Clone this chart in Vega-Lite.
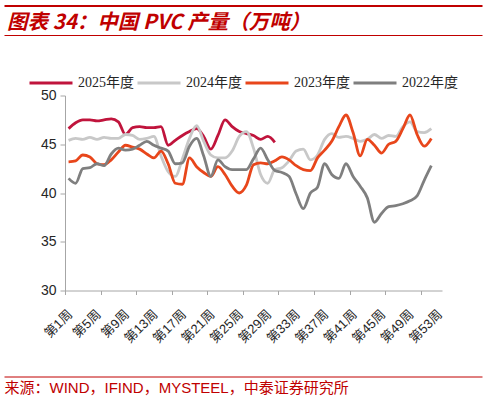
{
  "$schema": "https://vega.github.io/schema/vega-lite/v6.json",
  "background": "white",
  "padding": {"left": 4, "top": 5.5, "right": 4, "bottom": 4},
  "bounds": "flush",
  "spacing": 60,
  "datasets": {
    "pvc": [
      {"week": 1, "year": "2025年度", "value": 46.6}, {"week": 2, "year": "2025年度", "value": 47.2},
      {"week": 3, "year": "2025年度", "value": 47.5}, {"week": 4, "year": "2025年度", "value": 47.5},
      {"week": 5, "year": "2025年度", "value": 47.4}, {"week": 6, "year": "2025年度", "value": 47.5},
      {"week": 7, "year": "2025年度", "value": 47.6}, {"week": 8, "year": "2025年度", "value": 47.3},
      {"week": 9, "year": "2025年度", "value": 46.0}, {"week": 10, "year": "2025年度", "value": 46.7},
      {"week": 11, "year": "2025年度", "value": 46.8}, {"week": 12, "year": "2025年度", "value": 46.7},
      {"week": 13, "year": "2025年度", "value": 46.7}, {"week": 14, "year": "2025年度", "value": 46.8},
      {"week": 15, "year": "2025年度", "value": 44.9}, {"week": 16, "year": "2025年度", "value": 45.4},
      {"week": 17, "year": "2025年度", "value": 45.9}, {"week": 18, "year": "2025年度", "value": 46.3},
      {"week": 19, "year": "2025年度", "value": 46.6}, {"week": 20, "year": "2025年度", "value": 45.8},
      {"week": 21, "year": "2025年度", "value": 44.5}, {"week": 22, "year": "2025年度", "value": 45.9},
      {"week": 23, "year": "2025年度", "value": 47.5}, {"week": 24, "year": "2025年度", "value": 46.8},
      {"week": 25, "year": "2025年度", "value": 46.3}, {"week": 26, "year": "2025年度", "value": 46.1},
      {"week": 27, "year": "2025年度", "value": 45.9}, {"week": 28, "year": "2025年度", "value": 45.5},
      {"week": 29, "year": "2025年度", "value": 45.8}, {"week": 30, "year": "2025年度", "value": 45.2},

      {"week": 1, "year": "2024年度", "value": 45.4}, {"week": 2, "year": "2024年度", "value": 45.6},
      {"week": 3, "year": "2024年度", "value": 45.5}, {"week": 4, "year": "2024年度", "value": 45.7},
      {"week": 5, "year": "2024年度", "value": 45.5}, {"week": 6, "year": "2024年度", "value": 45.7},
      {"week": 7, "year": "2024年度", "value": 45.6}, {"week": 8, "year": "2024年度", "value": 45.6},
      {"week": 9, "year": "2024年度", "value": 46.0}, {"week": 10, "year": "2024年度", "value": 45.9},
      {"week": 11, "year": "2024年度", "value": 45.5}, {"week": 12, "year": "2024年度", "value": 45.6},
      {"week": 13, "year": "2024年度", "value": 45.8}, {"week": 14, "year": "2024年度", "value": 43.8},
      {"week": 15, "year": "2024年度", "value": 42.2}, {"week": 16, "year": "2024年度", "value": 41.7},
      {"week": 17, "year": "2024年度", "value": 43.5}, {"week": 18, "year": "2024年度", "value": 45.6},
      {"week": 19, "year": "2024年度", "value": 46.9}, {"week": 20, "year": "2024年度", "value": 45.3},
      {"week": 21, "year": "2024年度", "value": 43.9}, {"week": 22, "year": "2024年度", "value": 43.6},
      {"week": 23, "year": "2024年度", "value": 43.6}, {"week": 24, "year": "2024年度", "value": 44.3},
      {"week": 25, "year": "2024年度", "value": 45.8}, {"week": 26, "year": "2024年度", "value": 46.3},
      {"week": 27, "year": "2024年度", "value": 44.6}, {"week": 28, "year": "2024年度", "value": 41.9},
      {"week": 29, "year": "2024年度", "value": 41.0}, {"week": 30, "year": "2024年度", "value": 42.4},
      {"week": 31, "year": "2024年度", "value": 42.6}, {"week": 32, "year": "2024年度", "value": 43.3},
      {"week": 33, "year": "2024年度", "value": 44.3}, {"week": 34, "year": "2024年度", "value": 44.5},
      {"week": 35, "year": "2024年度", "value": 43.4}, {"week": 36, "year": "2024年度", "value": 43.9},
      {"week": 37, "year": "2024年度", "value": 45.5}, {"week": 38, "year": "2024年度", "value": 46.1},
      {"week": 39, "year": "2024年度", "value": 45.7}, {"week": 40, "year": "2024年度", "value": 45.8},
      {"week": 41, "year": "2024年度", "value": 45.6}, {"week": 42, "year": "2024年度", "value": 45.3},
      {"week": 43, "year": "2024年度", "value": 45.5}, {"week": 44, "year": "2024年度", "value": 46.0},
      {"week": 45, "year": "2024年度", "value": 45.6}, {"week": 46, "year": "2024年度", "value": 45.9},
      {"week": 47, "year": "2024年度", "value": 45.8}, {"week": 48, "year": "2024年度", "value": 46.8},
      {"week": 49, "year": "2024年度", "value": 47.3}, {"week": 50, "year": "2024年度", "value": 46.3},
      {"week": 51, "year": "2024年度", "value": 46.2}, {"week": 52, "year": "2024年度", "value": 46.6},

      {"week": 1, "year": "2023年度", "value": 43.2}, {"week": 2, "year": "2023年度", "value": 43.3},
      {"week": 3, "year": "2023年度", "value": 43.9}, {"week": 4, "year": "2023年度", "value": 43.7},
      {"week": 5, "year": "2023年度", "value": 43.0}, {"week": 6, "year": "2023年度", "value": 42.9},
      {"week": 7, "year": "2023年度", "value": 43.4}, {"week": 8, "year": "2023年度", "value": 44.2},
      {"week": 9, "year": "2023年度", "value": 44.9}, {"week": 10, "year": "2023年度", "value": 44.7},
      {"week": 11, "year": "2023年度", "value": 44.5}, {"week": 12, "year": "2023年度", "value": 44.0},
      {"week": 13, "year": "2023年度", "value": 43.6}, {"week": 14, "year": "2023年度", "value": 44.3},
      {"week": 15, "year": "2023年度", "value": 43.0}, {"week": 16, "year": "2023年度", "value": 41.0},
      {"week": 17, "year": "2023年度", "value": 40.9}, {"week": 18, "year": "2023年度", "value": 43.6},
      {"week": 19, "year": "2023年度", "value": 42.7}, {"week": 20, "year": "2023年度", "value": 42.1},
      {"week": 21, "year": "2023年度", "value": 41.7}, {"week": 22, "year": "2023年度", "value": 42.7},
      {"week": 23, "year": "2023年度", "value": 41.9}, {"week": 24, "year": "2023年度", "value": 40.7},
      {"week": 25, "year": "2023年度", "value": 40.0}, {"week": 26, "year": "2023年度", "value": 40.8},
      {"week": 27, "year": "2023年度", "value": 42.9}, {"week": 28, "year": "2023年度", "value": 43.1},
      {"week": 29, "year": "2023年度", "value": 43.0}, {"week": 30, "year": "2023年度", "value": 43.3},
      {"week": 31, "year": "2023年度", "value": 43.7}, {"week": 32, "year": "2023年度", "value": 43.4},
      {"week": 33, "year": "2023年度", "value": 42.8}, {"week": 34, "year": "2023年度", "value": 42.4},
      {"week": 35, "year": "2023年度", "value": 42.3}, {"week": 36, "year": "2023年度", "value": 43.6},
      {"week": 37, "year": "2023年度", "value": 44.4}, {"week": 38, "year": "2023年度", "value": 45.3},
      {"week": 39, "year": "2023年度", "value": 46.8}, {"week": 40, "year": "2023年度", "value": 48.0},
      {"week": 41, "year": "2023年度", "value": 46.2}, {"week": 42, "year": "2023年度", "value": 43.8},
      {"week": 43, "year": "2023年度", "value": 45.5}, {"week": 44, "year": "2023年度", "value": 44.9},
      {"week": 45, "year": "2023年度", "value": 44.1}, {"week": 46, "year": "2023年度", "value": 45.0},
      {"week": 47, "year": "2023年度", "value": 45.3}, {"week": 48, "year": "2023年度", "value": 46.6},
      {"week": 49, "year": "2023年度", "value": 48.0}, {"week": 50, "year": "2023年度", "value": 46.0},
      {"week": 51, "year": "2023年度", "value": 44.8}, {"week": 52, "year": "2023年度", "value": 45.6},

      {"week": 1, "year": "2022年度", "value": 41.5}, {"week": 2, "year": "2022年度", "value": 41.0},
      {"week": 3, "year": "2022年度", "value": 42.5}, {"week": 4, "year": "2022年度", "value": 42.6},
      {"week": 5, "year": "2022年度", "value": 43.0}, {"week": 6, "year": "2022年度", "value": 42.8},
      {"week": 7, "year": "2022年度", "value": 44.0}, {"week": 8, "year": "2022年度", "value": 44.6},
      {"week": 9, "year": "2022年度", "value": 44.4}, {"week": 10, "year": "2022年度", "value": 44.5},
      {"week": 11, "year": "2022年度", "value": 44.9}, {"week": 12, "year": "2022年度", "value": 45.3},
      {"week": 13, "year": "2022年度", "value": 44.9}, {"week": 14, "year": "2022年度", "value": 44.6},
      {"week": 15, "year": "2022年度", "value": 44.3}, {"week": 16, "year": "2022年度", "value": 43.0},
      {"week": 17, "year": "2022年度", "value": 43.1}, {"week": 18, "year": "2022年度", "value": 44.8},
      {"week": 19, "year": "2022年度", "value": 45.6}, {"week": 20, "year": "2022年度", "value": 43.8},
      {"week": 21, "year": "2022年度", "value": 41.7}, {"week": 22, "year": "2022年度", "value": 43.4},
      {"week": 23, "year": "2022年度", "value": 42.7}, {"week": 24, "year": "2022年度", "value": 42.4},
      {"week": 25, "year": "2022年度", "value": 42.4}, {"week": 26, "year": "2022年度", "value": 42.4},
      {"week": 27, "year": "2022年度", "value": 43.5}, {"week": 28, "year": "2022年度", "value": 44.6},
      {"week": 29, "year": "2022年度", "value": 43.4}, {"week": 30, "year": "2022年度", "value": 42.3},
      {"week": 31, "year": "2022年度", "value": 42.1}, {"week": 32, "year": "2022年度", "value": 41.7},
      {"week": 33, "year": "2022年度", "value": 39.9}, {"week": 34, "year": "2022年度", "value": 38.4},
      {"week": 35, "year": "2022年度", "value": 40.0}, {"week": 36, "year": "2022年度", "value": 40.6},
      {"week": 37, "year": "2022年度", "value": 43.0}, {"week": 38, "year": "2022年度", "value": 41.9},
      {"week": 39, "year": "2022年度", "value": 41.5}, {"week": 40, "year": "2022年度", "value": 43.0},
      {"week": 41, "year": "2022年度", "value": 41.7}, {"week": 42, "year": "2022年度", "value": 40.7},
      {"week": 43, "year": "2022年度", "value": 39.5}, {"week": 44, "year": "2022年度", "value": 37.0},
      {"week": 45, "year": "2022年度", "value": 37.9}, {"week": 46, "year": "2022年度", "value": 38.6},
      {"week": 47, "year": "2022年度", "value": 38.7}, {"week": 48, "year": "2022年度", "value": 38.9},
      {"week": 49, "year": "2022年度", "value": 39.2}, {"week": 50, "year": "2022年度", "value": 39.7},
      {"week": 51, "year": "2022年度", "value": 41.3}, {"week": 52, "year": "2022年度", "value": 42.8}
    ]
  },
  "vconcat": [
    {
      "width": 417,
      "height": 29.5,
      "data": {"values": [{}]},
      "layer": [
        {
          "mark": {"type": "text", "align": "left", "baseline": "middle", "font": "Noto Sans CJK SC", "fontSize": 20.5, "fontStyle": "italic", "fontWeight": "bold", "color": "#C00000", "dx": 3},
          "encoding": {
            "x": {"datum": 0, "type": "quantitative", "scale": {"domain": [0, 1], "range": [-61, 417]},
                  "axis": {"orient": "top", "domainColor": "#C00000", "domainWidth": 2.2, "labels": false, "ticks": false, "grid": false, "title": null}},
            "y": {"datum": 0.4, "type": "quantitative", "scale": {"domain": [0, 1]}, "axis": null},
            "text": {"value": "图表 34：中国 PVC 产量（万吨）"}
          }
        },
        {
          "mark": {"type": "text"},
          "encoding": {
            "x": {"datum": 0, "type": "quantitative", "scale": {"domain": [0, 1], "range": [-61, 417]},
                  "axis": {"orient": "bottom", "domainColor": "#C00000", "domainWidth": 1, "labels": false, "ticks": false, "grid": false, "title": null}},
            "y": {"datum": 0.5, "type": "quantitative", "scale": {"domain": [0, 1]}, "axis": null},
            "text": {"value": ""}
          }
        }
      ],
      "resolve": {"scale": {"x": "independent"}, "axis": {"x": "independent"}}
    },
    {
      "width": 377,
      "height": 195,
      "data": {"name": "pvc"},
      "mark": {"type": "line", "interpolate": "monotone", "strokeWidth": 2.8},
      "encoding": {
        "x": {
          "field": "week",
          "type": "quantitative",
          "scale": {"domain": [0.5, 53.5], "nice": false, "zero": false},
          "axis": {
            "title": null,
            "grid": false,
            "values": [0.5, 1, 5, 5.5, 9, 10.5, 13, 15.5, 17, 20.5, 21, 25, 25.5, 29, 30.5, 33, 35.5, 37, 40.5, 41, 45, 45.5, 49, 50.5, 53],
            "labelExpr": "datum.value % 1 === 0 ? '第' + datum.value + '周' : ''",
            "tickOpacity": {"condition": {"test": "datum.value % 1 !== 0", "value": 1}, "value": 0},
            "tickSize": 4,
            "tickColor": "#A6A6A6",
            "domainColor": "#A6A6A6",
            "labelAngle": -45,
            "labelOverlap": false,
            "labelFlush": false,
            "labelPadding": 13,
            "labelOffset": -3,
            "labelFont": "Liberation Sans, Noto Sans CJK SC",
            "labelFontSize": 13,
            "labelColor": "#262626"
          }
        },
        "y": {
          "field": "value",
          "type": "quantitative",
          "scale": {"domain": [30, 50], "nice": false, "zero": false},
          "axis": {
            "title": null,
            "grid": false,
            "values": [30, 35, 40, 45, 50],
            "tickSize": 5,
            "tickColor": "#A6A6A6",
            "domainColor": "#A6A6A6",
            "labelPadding": 4,
            "labelFont": "Liberation Sans",
            "labelFontSize": 14,
            "labelColor": "#262626"
          }
        },
        "color": {
          "field": "year",
          "type": "nominal",
          "sort": null,
          "scale": {
            "domain": ["2025年度", "2024年度", "2023年度", "2022年度"],
            "range": ["#C0143C", "#C8C8C8", "#E8461B", "#7F7F7F"]
          },
          "legend": {
            "title": null,
            "orient": "none",
            "legendX": -37,
            "legendY": 54.5,
            "direction": "horizontal",
            "symbolType": "stroke",
            "symbolSize": 1849,
            "symbolStrokeWidth": 3,
            "labelOffset": 4,
            "columnPadding": -3,
            "labelFont": "Liberation Serif, Noto Sans CJK SC",
            "labelFontSize": 14,
            "labelColor": "#262626"
          }
        }
      }
    },
    {
      "width": 417,
      "height": 26,
      "data": {"values": [{}]},
      "mark": {"type": "text"},
      "encoding": {
        "x": {"datum": 0, "type": "quantitative", "scale": {"domain": [0, 1], "range": [-61, 417]},
              "axis": {"orient": "bottom", "domainColor": "#C00000", "domainWidth": 1, "labels": false, "ticks": false, "grid": false,
                       "title": "来源：WIND，IFIND，MYSTEEL，中泰证券研究所", "titleAnchor": "start", "titleColor": "#C00000",
                       "titleFont": "Liberation Sans, Noto Sans CJK SC", "titleFontSize": 15, "titleFontWeight": "normal", "titlePadding": 4}},
        "y": {"datum": 0.5, "type": "quantitative", "scale": {"domain": [0, 1]}, "axis": null},
        "text": {"value": ""}
      }
    }
  ],
  "config": {
    "view": {"stroke": null}
  }
}
